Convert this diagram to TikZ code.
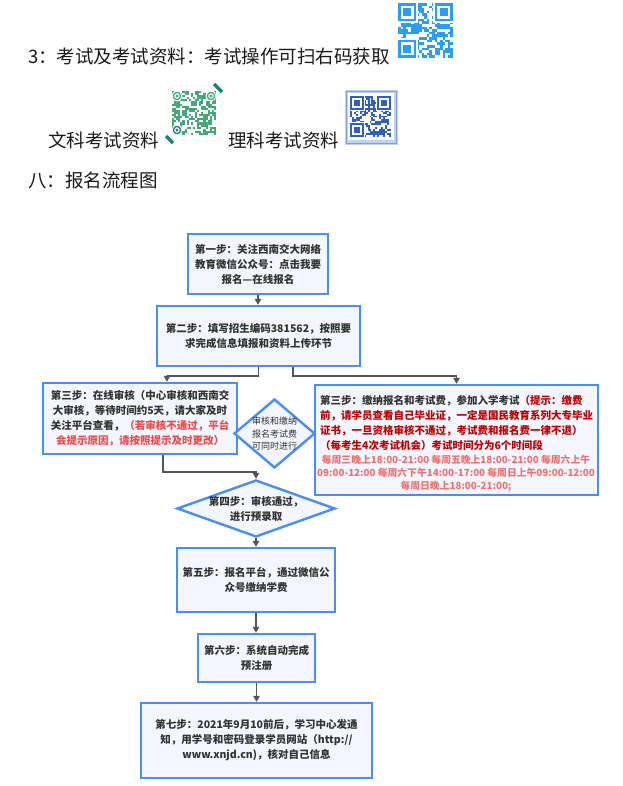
\documentclass[tikz,border=0pt]{standalone}
\usepackage{fontspec}
\newfontfamily\cjk{Noto Sans CJK SC}
\usetikzlibrary{arrows.meta,shapes.geometric,calc}
\definecolor{boxblue}{HTML}{4A8EF4}
\definecolor{boxfill}{HTML}{F3F6FE}
\definecolor{txt}{HTML}{333333}
\definecolor{toptxt}{HTML}{1A1A1A}
\definecolor{arrgray}{HTML}{555555}
\definecolor{redA}{HTML}{F04848}
\definecolor{redB}{HTML}{C00000}
\definecolor{redC}{HTML}{F27070}
\definecolor{qrblue}{HTML}{2A9DF4}
\definecolor{qrgreen}{HTML}{45A87A}
\definecolor{qrteal}{HTML}{1F7F7A}
\definecolor{qrdblue}{HTML}{2F5FC0}
\definecolor{qrframe}{HTML}{BFD3F2}
\newcommand\qrmods[4]{% x y size color
  \pgfmathsetmacro\qrc{#3/21}%
  \foreach \i in {0,...,20}{\foreach \j in {0,...,20}{%
    \pgfmathrandominteger{\qrr}{0}{1}%
    \ifnum\qrr=1 \fill[#4] ({#1+\i*\qrc},{#2+\j*\qrc}) rectangle ++(\qrc,\qrc);\fi
  }}%
}
\newcommand\qrfind[4]{% x y cell color
  \pgfmathsetmacro\qfx{#1}\pgfmathsetmacro\qfy{#2}\pgfmathsetmacro\qfc{#3}%
  \fill[white] (\qfx-0.5*\qfc,\qfy-0.5*\qfc) rectangle ++(8*\qfc,8*\qfc);
  \fill[#4] (\qfx,\qfy) rectangle ++(7*\qfc,7*\qfc);
  \fill[white] (\qfx+\qfc,\qfy+\qfc) rectangle ++(5*\qfc,5*\qfc);
  \fill[#4] (\qfx+2*\qfc,\qfy+2*\qfc) rectangle ++(3*\qfc,3*\qfc);
}
\newcommand\qrcirc[3]{% x y color
  \fill[white] (#1,#2) circle (5.5);
  \draw[#3, line width=1.3pt] (#1,#2) circle (3.6);
  \fill[#3] (#1,#2) circle (1.7);
}
\begin{document}
\begin{tikzpicture}[x=1pt,y=-1pt,
  stepbox/.style={draw=boxblue, line width=2.4pt, fill=boxfill, inner sep=0pt,
    align=center, text=txt, font={\cjk\fontsize{10.5}{15}\selectfont\bfseries}},
  decision/.style={diamond, draw=boxblue, line width=2.4pt, fill=boxfill, inner sep=0pt},
  boxtext/.style={inner sep=0pt, align=center, text=txt, font={\cjk\fontsize{10.5}{15}\selectfont\bfseries}},
  midtext/.style={inner sep=0pt, align=center, text=txt, font={\cjk\fontsize{9}{12.5}\selectfont}},
  timetext/.style={inner sep=0pt, align=center, text=redC, font={\cjk\fontsize{9.8}{13}\selectfont\bfseries}},
  toptext/.style={inner sep=0pt, anchor=west, text=toptxt, font={\cjk\fontsize{18.5}{22}\selectfont}},
  arr/.style={draw=arrgray, line width=1.6pt, -{Triangle[length=6pt,width=6.5pt]}}]
\pgfmathsetseed{4711}
\fill[white] (0,0) rectangle (622,786);
\useasboundingbox (0,0) rectangle (622,786);

% ---------- header texts ----------
\node[toptext] (t1) at (28,56) {3：考试及考试资料：考试操作可扫右码获取};
\node[toptext] (t2) at (48,140) {文科考试资料};
\node[toptext] (t3) at (228,140) {理科考试资料};
\node[toptext] (t4) at (28,180) {八：报名流程图};

% ---------- QR code 1 ----------
\qrmods{398}{3}{55}{qrblue}
\qrfind{398}{3}{55/21}{qrblue}
\qrfind{398+14*55/21}{3}{55/21}{qrblue}
\qrfind{398}{3+14*55/21}{55/21}{qrblue}

% ---------- QR code 2 (green) ----------
\draw[gray!60, densely dotted, rounded corners=5pt] (168,86) rectangle (220,141);
\qrmods{172}{91}{44}{qrgreen}
\qrcirc{177}{96}{qrgreen}
\qrcirc{211}{96}{qrgreen}
\qrcirc{177}{130}{qrteal}
\draw[qrteal, line width=3.5pt] (214,84) -- (222,92);
\draw[qrteal, line width=3.5pt] (166,136) -- (173,143);

% ---------- QR code 3 (blue) ----------
\fill[qrframe] (345,90) rectangle (398,145);
\draw[qrdblue!60, line width=0.6pt] (346,91) rectangle (396,143);
\fill[white] (348,93) rectangle (394,140);
\qrmods{350}{96}{41}{qrdblue}
\qrfind{350}{96}{41/21}{qrdblue}
\qrfind{350+14*41/21}{96}{41/21}{qrdblue}
\qrfind{350}{96+14*41/21}{41/21}{qrdblue}

% ---------- flowchart ----------
\node[stepbox, minimum width=140pt, minimum height=60pt] (s1) at (258,264)
  {第一步：关注西南交大网络\\教育微信公众号：点击我要\\报名—在线报名};
\node[stepbox, minimum width=203pt, minimum height=60pt] (s2) at (258.5,336)
  {第二步：填写招生编码381562，按照要\\求完成信息填报和资料上传环节};
\node[stepbox, minimum width=194pt, minimum height=71pt] (s3) at (140,418.5)
  {第三步：在线审核（中心审核和西南交\\大审核，等待时间约5天，请大家及时\\关注平台查看，\textcolor{redA}{（若审核不通过，平台}\\\textcolor{redA}{会提示原因，请按照提示及时更改）}};
\node[stepbox, minimum width=283pt, minimum height=110pt] (s3r) at (456.5,440) {};
\node[boxtext, align=left, anchor=west] (s3rt) at (320,423)
  {第三步：缴纳报名和考试费，参加入学考试\textcolor{redB}{（提示：缴费}\\\textcolor{redB}{前，请学员查看自己毕业证，一定是国民教育系列大专毕业}\\\textcolor{redB}{证书，一旦资格审核不通过，考试费和报名费一律不退）}\\\textcolor{redB}{（每考生4次考试机会）考试时间分为6个时间段}};
\node[timetext] (s3rtime) at (456,473)
  {每周三晚上18:00-21:00 每周五晚上18:00-21:00 每周六上午\\09:00-12:00 每周六下午14:00-17:00 每周日上午09:00-12:00\\每周日晚上18:00-21:00;};

\node[decision, minimum width=81pt, minimum height=69pt] (d3) at (274.5,433.5) {};
\node[midtext] (d3t) at (274.5,434) {审核和缴纳\\报名考试费\\可同时进行};

\node[decision, minimum width=158pt, minimum height=57pt] (d4) at (256,508.5) {};
\node[boxtext] (d4t) at (256,509) {第四步：审核通过，\\进行预录取};

\node[stepbox, minimum width=158pt, minimum height=64pt] (s5) at (256,580)
  {第五步：报名平台，通过微信公\\众号缴纳学费};
\node[stepbox, minimum width=117pt, minimum height=48pt] (s6) at (256.5,658)
  {第六步：系统自动完成\\预注册};
\node[stepbox, minimum width=231pt, minimum height=75pt] (s7) at (256.5,740.5)
  {第七步：2021年9月10前后，学习中心发通\\知，用学号和密码登录学员网站（http://\\www.xnjd.cn)，核对自己信息};

% ---------- connectors ----------
\draw[arr] (s1.south) -- (s1.south |- s2.north);
\draw[arr] (s2.south) -- ++(0,9) -| ([xshift=27pt]s3.north);
\draw[arr] ([xshift=34.5pt]s2.south) -- ++(0,9) -| (s3r.north);
\draw[arr] ([xshift=23pt]s3.south) -- ++(0,17) -| (d4.north);
\draw[arr] (d4.south) -- (s5.north);
\draw[arr] (s5.south) -- (s5.south |- s6.north);
\draw[arr] (s6.south) -- (s6.south |- s7.north);
\end{tikzpicture}
\end{document}
